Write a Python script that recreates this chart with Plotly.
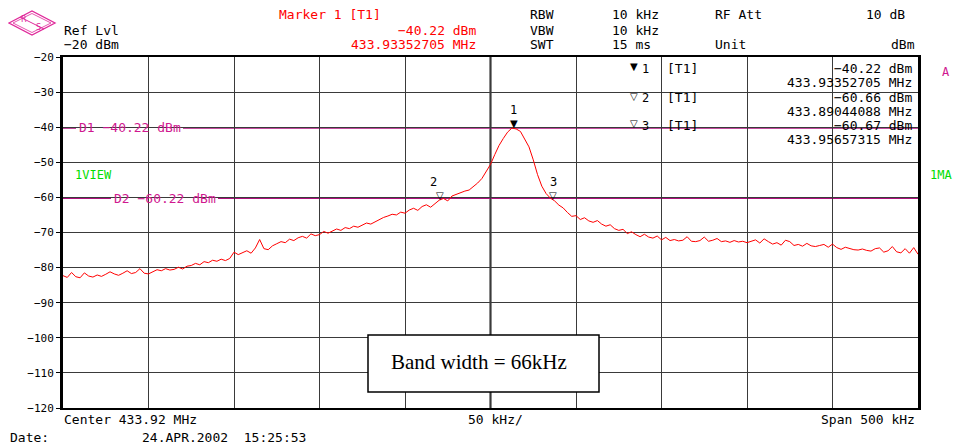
import numpy as np
import plotly.graph_objects as go

# ---------------- data ----------------
center_mhz = 433.92
span_mhz = 0.5
div_mhz = 0.05
n_points = 201

level_dbm = [
    -82.3, -82.8, -81.4, -82.6, -82.9, -81.5, -82.4, -82.7, -82.1, -82.5,
    -81.9, -81.2, -81.8, -82.2, -81.6, -80.9, -81.7, -81.4, -80.3, -81.6,
    -81.8, -81.2, -80.6, -80.9, -80.3, -80.7, -80.5, -79.9, -80.4, -79.6,
    -79.4, -78.8, -79.2, -78.3, -78.6, -77.9, -78.2, -77.6, -78.0, -77.4,
    -75.6, -76.3, -75.8, -75.2, -75.9, -74.4, -72.0, -74.6, -74.9, -73.8,
    -73.2, -72.6, -72.9, -71.9, -72.3, -71.5, -71.1, -71.6, -70.4, -70.9,
    -70.6, -69.7, -70.2, -69.5, -69.0, -69.4, -68.6, -68.9, -68.2, -68.5,
    -67.8, -67.3, -67.6, -66.9, -66.2, -65.7, -65.3, -64.8, -65.0, -64.2,
    -64.5, -63.6, -63.1, -63.7, -62.6, -62.1, -62.8, -61.7, -60.8, -60.3,
    -61.0, -59.6, -59.1, -58.7, -58.2, -57.9, -57.0, -55.9, -54.6, -52.6,
    -50.6, -47.8, -45.2, -43.2, -41.4, -40.25, -40.5, -41.2, -43.2, -45.6,
    -49.3, -53.5, -56.8, -58.9, -60.2, -61.0, -62.2, -63.0, -64.3, -65.4,
    -65.2, -66.3, -65.8, -66.7, -67.1, -66.6, -67.6, -68.2, -67.8, -68.9,
    -69.4, -69.1, -70.3, -69.8, -70.6, -71.2, -70.5, -71.3, -71.6, -71.0,
    -72.1, -71.4, -72.3, -72.0, -72.4, -72.2, -71.2, -72.5, -72.6, -72.3,
    -71.3, -72.5, -72.2, -71.7, -72.6, -72.4, -72.8, -72.3, -72.7, -72.5,
    -72.9, -72.4, -72.1, -73.0, -71.8, -72.6, -73.3, -72.9, -73.6, -72.2,
    -72.6, -73.7, -73.4, -73.9, -73.1, -73.8, -74.0, -73.7, -73.4, -74.2,
    -73.3, -74.3, -74.8, -74.2, -74.6, -74.9, -75.0, -74.7, -75.1, -75.3,
    -74.6, -74.4, -75.6, -75.2, -74.0, -75.5, -75.8, -74.6, -75.9, -74.3,
    -76.2,
]
freq_mhz = np.linspace(center_mhz - span_mhz / 2, center_mhz + span_mhz / 2, n_points)

marker_ids = ["1", "2", "3"]
marker_freq = [433.93352705, 433.89044088, 433.95657315]
marker_level = [-40.22, -60.66, -60.67]
marker_symbol = ["\u25BC", "\u25BD", "\u25BD"]

display_names = ["D1", "D2"]
display_level = [-40.22, -60.22]

y_ticks = [-20, -30, -40, -50, -60, -70, -80, -90, -100, -110, -120]
y_tick_text = ["\u221220", "\u221230", "\u221240", "\u221250", "\u221260", "\u221270",
               "\u221280", "\u221290", "\u2212100", "\u2212110", "\u2212120"]

# ---------------- layout helpers ----------------
# the page body has an 8 px margin, so the figure starts at (8, 8) in the window
OFF = 8
W, H = 964 - OFF, 448 - OFF
L, R, T, B = 63, 918, 57, 408          # plot area in window pixels
def px(x):
    return (x - L) / (R - L)
def py(y):
    return (B - y) / (B - T)

MONO = "DejaVu Sans Mono"
RED = "#ff0000"
MAG = "#b0107e"
MAGT = "#d0188f"
GREEN = "#00dd00"

fig = go.Figure()
fig.add_trace(go.Scatter(x=freq_mhz, y=level_dbm, mode="lines",
                         line=dict(color=RED, width=1), showlegend=False,
                         hoverinfo="skip"))

shapes = []
annots = []

def txt(x, y, s, color="black", size=13, anchor="left", font=MONO):
    annots.append(dict(xref="paper", yref="paper", x=px(x), y=py(y), text=s,
                       showarrow=False, xanchor=anchor, yanchor="middle",
                       font=dict(family=font, size=size, color=color)))

# centre line
shapes.append(dict(type="line", xref="x", yref="paper", x0=center_mhz, x1=center_mhz,
                   y0=0, y1=1, line=dict(color="#8a8a8a", width=3), layer="between"))

# display lines with gap where the label sits
d_label_x = [77, 112]
d_label_w = 104
for name, lvl, lx in zip(display_names, display_level, d_label_x):
    shapes.append(dict(type="line", xref="paper", yref="y", x0=0, x1=px(lx - 1),
                       y0=lvl, y1=lvl, line=dict(color=MAG, width=1.6), layer="between"))
    shapes.append(dict(type="line", xref="paper", yref="y", x0=px(lx + d_label_w + 2), x1=1,
                       y0=lvl, y1=lvl, line=dict(color=MAG, width=1.6), layer="between"))
    annots.append(dict(xref="paper", yref="y", x=px(lx), y=lvl,
                       text=f"{name} {lvl:.2f} dBm".replace("-", "\u2212"),
                       showarrow=False, xanchor="left", yanchor="middle",
                       font=dict(family=MONO, size=13, color=MAGT)))

# markers on the trace
for mid, mf, ml, ms in zip(marker_ids, marker_freq, marker_level, marker_symbol):
    annots.append(dict(xref="x", yref="y", x=mf, y=ml, text=ms, showarrow=False,
                       xanchor="center", yanchor="bottom", yshift=-3,
                       font=dict(family="DejaVu Sans", size=10, color="black")))
    annots.append(dict(xref="x", yref="y", x=mf - 0.004 * (mid == "2"), y=ml, text=mid,
                       showarrow=False, xanchor="center", yanchor="bottom", yshift=9,
                       font=dict(family=MONO, size=12, color="black")))

# band width box
shapes.append(dict(type="rect", xref="paper", yref="paper",
                   x0=px(368), x1=px(599), y0=py(392), y1=py(335),
                   fillcolor="white", line=dict(color="black", width=1.5), layer="above"))
txt(479, 362, "Band width = 66kHz", size=21, anchor="center", font="Liberation Serif")

# header texts
txt(62, 30, "Ref Lvl")
txt(62, 45, "\u221220 dBm")
txt(330, 15, "Marker 1 [T1]", color=RED, anchor="center")
txt(478, 30, "\u221240.22 dBm", color=RED, anchor="right")
txt(478, 45, "433.93352705 MHz", color=RED, anchor="right")
txt(528, 15, "RBW"); txt(610, 15, "10 kHz"); txt(713, 15, "RF Att")
txt(907, 15, "10 dB", anchor="right")
txt(528, 30, "VBW"); txt(610, 30, "10 kHz")
txt(528, 45, "SWT"); txt(610, 45, "15 ms"); txt(713, 45, "Unit")
txt(917, 45, "dBm", anchor="right")

# marker table
rows = [
    ("\u25BC", "1", "\u221240.22 dBm", "433.93352705 MHz", 67),
    ("\u25BD", "2", "\u221260.66 dBm", "433.89044088 MHz", 96),
    ("\u25BD", "3", "\u221260.67 dBm", "433.95657315 MHz", 124),
]
for sym, num, lvl, fr, y in rows:
    txt(628, y, sym, size=10, font="DejaVu Sans")
    txt(640, y + 2, num, size=12)
    txt(665, y + 1, "[T1]")
    txt(914, y + 1, lvl, anchor="right")
    txt(914, y + 15, fr, anchor="right")

txt(73, 175, "1VIEW", color=GREEN, size=12)
txt(940, 72, "A", color=MAGT, size=12)
txt(928, 175, "1MA", color=GREEN, size=12)

# footer
txt(62, 419, "Center 433.92 MHz")
txt(495, 419, "50 kHz/", anchor="center")
txt(917, 419, "Span 500 kHz", anchor="right")
txt(8, 438, "Date:")
txt(140, 438, "24.APR.2002  15:25:53")

# R&S logo
def pt(x, y):
    return f"{px(x):.5f},{py(y):.5f}"
shapes.append(dict(type="path", xref="paper", yref="paper",
                   path=f"M{pt(9,23)} L{pt(32,11)} L{pt(55,23)} L{pt(32,35)} Z",
                   line=dict(color="#e0289a", width=1.3), fillcolor="rgba(0,0,0,0)",
                   layer="above"))
shapes.append(dict(type="path", xref="paper", yref="paper",
                   path=f"M{pt(13,23)} L{pt(32,13.5)} L{pt(51,23)} L{pt(32,32.5)} Z",
                   line=dict(color="#e0289a", width=0.8), fillcolor="rgba(0,0,0,0)",
                   layer="above"))
shapes.append(dict(type="line", xref="paper", yref="paper",
                   x0=px(20), y0=py(17), x1=px(44), y1=py(29),
                   line=dict(color="#e0289a", width=1), layer="above"))
txt(24, 19, "R", color="#e0289a", size=8, anchor="center", font="DejaVu Sans")
txt(38, 28, "S", color="#e0289a", size=8, anchor="center", font="DejaVu Sans")

fig.update_layout(
    width=W, height=H,
    margin=dict(l=L - OFF, r=(W + OFF) - R, t=T - OFF, b=(H + OFF) - B, autoexpand=False),
    paper_bgcolor="white", plot_bgcolor="white",
    showlegend=False,
    shapes=shapes, annotations=annots,
    xaxis=dict(range=[center_mhz - span_mhz / 2, center_mhz + span_mhz / 2],
               tick0=center_mhz - span_mhz / 2, dtick=div_mhz,
               showticklabels=False, ticks="",
               showgrid=True, gridcolor="#3a3a3a", gridwidth=1, zeroline=False,
               showline=True, linecolor="black", linewidth=2, mirror=True),
    yaxis=dict(range=[-120, -20], tickvals=y_ticks, ticktext=y_tick_text,
               ticks="outside", ticklen=4, tickcolor="black",
               tickfont=dict(family=MONO, size=11, color="black"),
               showgrid=True, gridcolor="#3a3a3a", gridwidth=1, zeroline=False,
               showline=True, linecolor="black", linewidth=3, mirror=True),
)

fig.write_html("out.html")
